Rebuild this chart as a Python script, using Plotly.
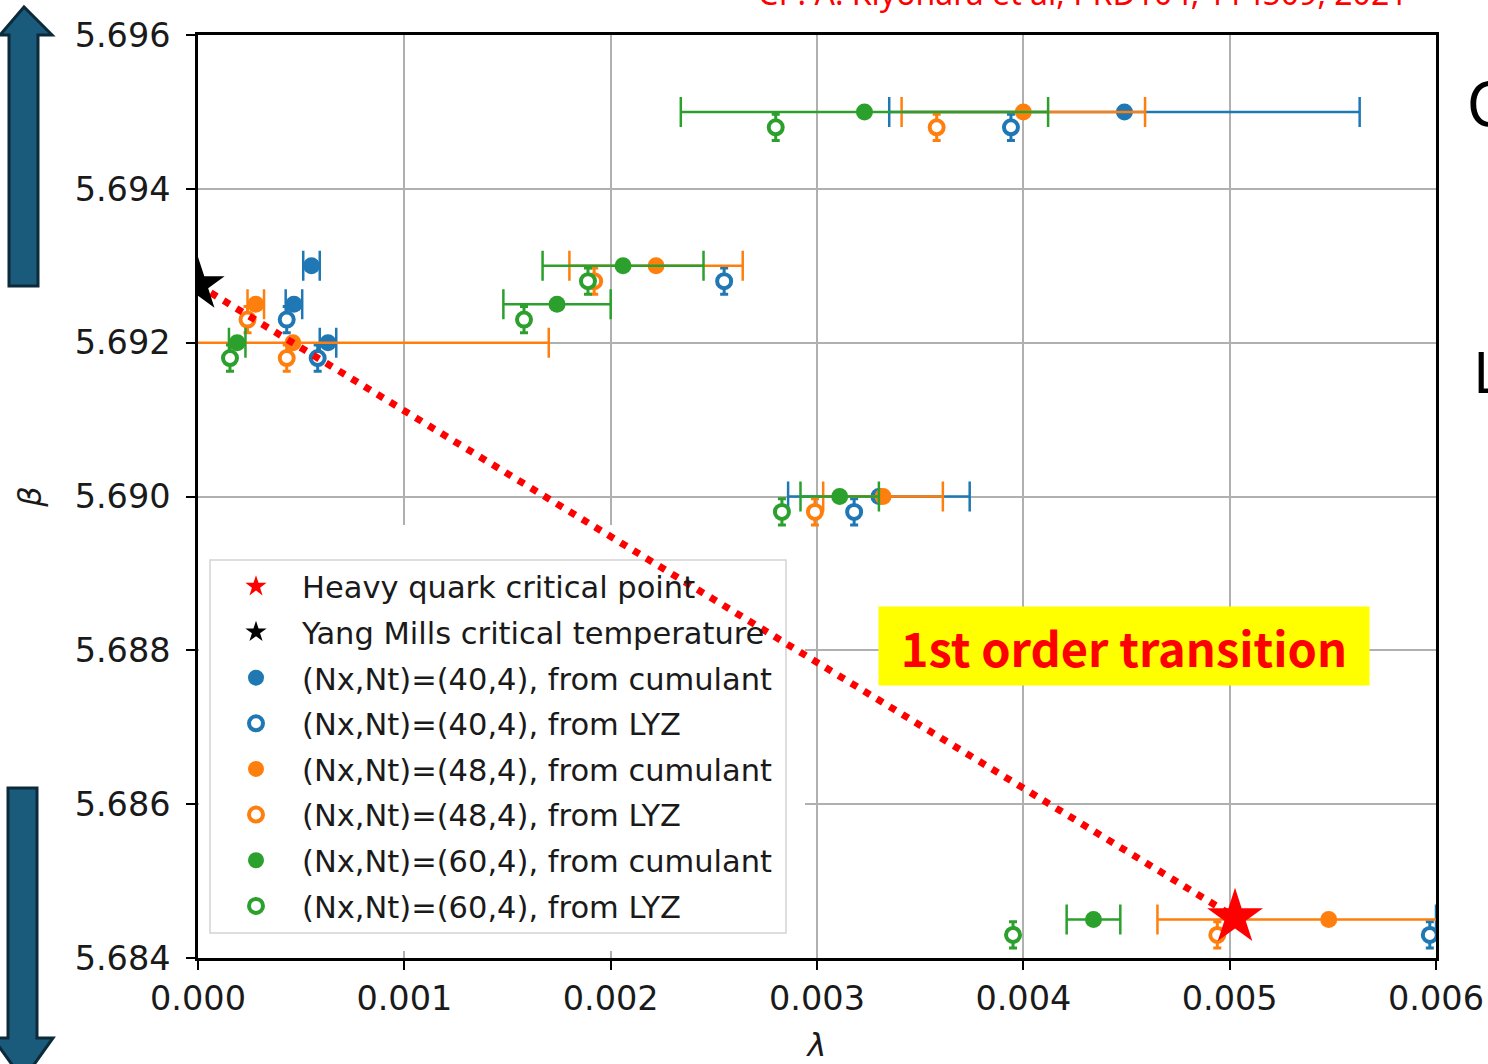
import plotly.graph_objects as go

# ---- data -------------------------------------------------------------
# rows of beta used by the cumulant analysis
beta_cum = [5.695, 5.693, 5.6925, 5.692, 5.690, 5.6845]
# LYZ points (drawn slightly below their cumulant counterparts)
beta_lyz = [5.6948, 5.6928, 5.6923, 5.6918, 5.6898, 5.6843]

lam_40_cum = [0.00449, 0.00055, 0.000465, 0.00063, 0.00330, 0.00690]
err_40_cum = [0.00114, 0.00004, 0.00004, 0.00004, 0.00044, 0.00090]
lam_48_cum = [0.00400, 0.00222, 0.00028, 0.00046, 0.00332, 0.00548]
err_48_cum = [0.00059, 0.00042, 0.00004, 0.00124, 0.00029, 0.00083]
lam_60_cum = [0.00323, 0.00206, 0.00174, 0.00019, 0.00311, 0.00434]
err_60_cum = [0.00089, 0.00039, 0.00026, 0.00004, 0.00019, 0.00013]

lam_40_lyz = [0.00394, 0.00255, 0.00043, 0.00058, 0.00318, 0.00597]
lam_48_lyz = [0.00358, 0.00192, 0.00024, 0.00043, 0.00299, 0.00494]
lam_60_lyz = [0.00280, 0.00189, 0.00158, 0.000155, 0.00283, 0.00395]
err_lyz_beta = 0.00017

heavy_cp = (0.005026, 5.68453)   # heavy quark critical point (lambda, beta)
ym_tc = (0.0, 5.69275)           # Yang-Mills critical temperature

x_range = [0.0, 0.006]
y_range = [5.684, 5.696]
x_ticks = [0.000, 0.001, 0.002, 0.003, 0.004, 0.005, 0.006]
y_ticks = [5.684, 5.686, 5.688, 5.690, 5.692, 5.694, 5.696]

C_BLUE, C_ORANGE, C_GREEN = "#1f77b4", "#ff7f0e", "#2ca02c"

# ---- geometry helpers (figure pixels -> paper / axis coords) ----------
W, H = 1488, 1064
ML, MR, MT, MB = 198, 52, 35, 106
PW, PH = W - ML - MR, H - MT - MB


def px(x):
    return (x - ML) / PW


def py(y):
    return (H - MB - y) / PH


def ax_x(x):
    return x_range[0] + px(x) * (x_range[1] - x_range[0])


def ax_y(y):
    return y_range[0] + py(y) * (y_range[1] - y_range[0])


def poly(points):
    return "M " + " L ".join(f"{px(a):.5f},{py(b):.5f}" for a, b in points) + " Z"


fig = go.Figure()

# white panel behind the legend (hides the grid there) and the legend frame
fig.add_shape(type="rect", xref="x", yref="y", x0=ax_x(199), x1=ax_x(805),
              y0=ax_y(951), y1=ax_y(525), fillcolor="white", line_width=0,
              layer="between")
fig.add_shape(type="rect", xref="x", yref="y", x0=ax_x(210), x1=ax_x(786),
              y0=ax_y(933), y1=ax_y(560), fillcolor="white",
              line=dict(color="#d4d4d4", width=1.5), layer="between")

series = [
    ("(Nx,Nt)=(40,4), from cumulant", lam_40_cum, err_40_cum, C_BLUE),
    ("(Nx,Nt)=(40,4), from LYZ", lam_40_lyz, None, C_BLUE),
    ("(Nx,Nt)=(48,4), from cumulant", lam_48_cum, err_48_cum, C_ORANGE),
    ("(Nx,Nt)=(48,4), from LYZ", lam_48_lyz, None, C_ORANGE),
    ("(Nx,Nt)=(60,4), from cumulant", lam_60_cum, err_60_cum, C_GREEN),
    ("(Nx,Nt)=(60,4), from LYZ", lam_60_lyz, None, C_GREEN),
]

for rank, (name, lam, err, col) in enumerate(series):
    if err is not None:
        fig.add_trace(go.Scatter(
            x=lam, y=beta_cum, mode="markers", name=name,
            marker=dict(symbol="circle", size=17, color=col),
            error_x=dict(type="data", array=err, color=col, thickness=2.5, width=15),
            legendrank=10 + rank, legendgroup=f"g{rank + 2}",
        ))
    else:
        fig.add_trace(go.Scatter(
            x=lam, y=beta_lyz, mode="markers", name=name,
            marker=dict(symbol="circle", size=14, color="white",
                        line=dict(color=col, width=4)),
            error_y=dict(type="constant", value=err_lyz_beta, color=col,
                         thickness=3, width=4),
            legendrank=10 + rank, legendgroup=f"g{rank + 2}",
        ))

# dotted guide from the Yang-Mills point to the heavy quark critical point
fig.add_trace(go.Scatter(
    x=[ym_tc[0], heavy_cp[0]], y=[ym_tc[1], heavy_cp[1]], mode="lines",
    line=dict(color="#ff0000", width=7, dash="7px,8px"),
    showlegend=False, hoverinfo="skip",
))

fig.add_trace(go.Scatter(
    x=[heavy_cp[0]], y=[heavy_cp[1]], mode="markers",
    name="Heavy quark critical point",
    marker=dict(symbol="star", size=42, color="#ff0000"),
    legendrank=1, legendgroup="g0",
))
fig.add_trace(go.Scatter(
    x=[ym_tc[0]], y=[ym_tc[1]], mode="markers",
    name="Yang Mills critical temperature",
    marker=dict(symbol="star", size=40, color="#000000"),
    legendrank=2, legendgroup="g1",
))

# slide arrows on the left
ARROW_FILL, ARROW_LINE = "#1a5a7b", "#0c2a3a"
fig.add_shape(type="path", xref="paper", yref="paper",
              path=poly([(9, 286), (9, 35), (0, 35), (24, 7), (52, 35), (38, 35), (38, 286)]),
              fillcolor=ARROW_FILL, line=dict(color=ARROW_LINE, width=3), layer="above")
fig.add_shape(type="path", xref="paper", yref="paper",
              path=poly([(8, 788), (37, 788), (37, 1038), (53, 1038), (23, 1080), (-7, 1038), (8, 1038)]),
              fillcolor=ARROW_FILL, line=dict(color=ARROW_LINE, width=3), layer="above")

# annotations
fig.add_annotation(
    xref="paper", yref="paper", x=px(1124), y=py(646),
    xanchor="center", yanchor="middle",
    text="<b>1st order transition</b>", showarrow=False,
    font=dict(family="Noto Sans CJK JP", size=47, color="#ff0000"),
    bgcolor="#ffff00", width=490, height=78, borderpad=0,
)
fig.add_annotation(
    xref="paper", yref="paper", x=px(1083), y=py(-7),
    xanchor="center", yanchor="middle",
    text="Cf : A. Kiyohara et al, PRD104, 114509, 2021", showarrow=False,
    font=dict(family="Noto Sans", size=32, color="#ff0000"),
)
fig.add_annotation(
    xref="paper", yref="paper", x=px(1465), y=py(99),
    xanchor="left", yanchor="middle",
    text="C", showarrow=False,
    font=dict(family="Noto Sans CJK JP", size=60, color="#000000"),
)
fig.add_annotation(
    xref="paper", yref="paper", x=px(1471), y=py(368),
    xanchor="left", yanchor="middle",
    text="L", showarrow=False,
    font=dict(family="Noto Sans CJK JP", size=56, color="#000000"),
)

TICK_FONT = dict(family="DejaVu Sans", size=33.5, color="#1a1a1a")
TITLE_FONT = dict(family="DejaVu Sans", size=32, style="italic", color="#1a1a1a")
axis_common = dict(
    showline=True, linecolor="black", linewidth=2.5, mirror=True,
    ticks="outside", ticklen=9, tickwidth=2, tickcolor="black",
    showgrid=True, gridcolor="#b0b0b0", gridwidth=2,
    zeroline=False, tickfont=TICK_FONT, tickformat=".3f",
    automargin=False,
)

fig.update_layout(
    width=W, height=H, autosize=False,
    margin=dict(l=ML, r=MR, t=MT, b=MB),
    paper_bgcolor="white", plot_bgcolor="white",
    xaxis=dict(range=x_range, tickvals=x_ticks, **axis_common,
               title=dict(text="λ", standoff=19, font=TITLE_FONT)),
    yaxis=dict(range=y_range, tickvals=y_ticks, **axis_common,
               ticklabelstandoff=9,
               title=dict(text="β", standoff=24, font=TITLE_FONT)),
    legend=dict(
        x=px(210), y=py(560), xanchor="left", yanchor="top",
        bgcolor="rgba(0,0,0,0)", borderwidth=0,
        font=dict(family="DejaVu Sans", size=30.5, color="#1a1a1a"),
        itemwidth=82, tracegroupgap=3,
    ),
    showlegend=True,
)

fig.write_html("out.html")
